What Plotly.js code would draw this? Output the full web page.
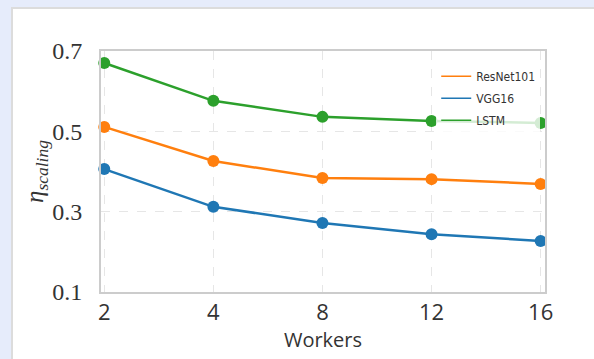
<!DOCTYPE html>
<html>
<head>
<meta charset="utf-8">
<script src="https://cdn.plot.ly/plotly-3.0.1.min.js"></script>
<style>
html,body{margin:0;padding:0;width:594px;height:359px;overflow:hidden;background:#e6ecfb;}
#card{position:absolute;left:11px;top:7px;width:600px;height:400px;background:#fff;border:2px solid #dcdcdc;box-sizing:border-box;}
#chart{position:absolute;left:0;top:0;width:594px;height:359px;}
</style>
</head>
<body>
<div id="card"></div>
<div id="chart"></div>
<script>
const workers = ['2', '4', '8', '12', '16'];
const seriesNames = ['ResNet101', 'VGG16', 'LSTM'];
const resnet101 = [0.511, 0.426, 0.384, 0.381, 0.369];
const vgg16 = [0.406, 0.312, 0.272, 0.244, 0.227];
const lstm = [0.670, 0.576, 0.536, 0.526, 0.521];
const yTicks = [0.1, 0.3, 0.5, 0.7];
const colors = ['#ff7f0e', '#1f77b4', '#2ca02c'];
const values = [resnet101, vgg16, lstm];

const traces = [];
values.forEach((v, i) => {
  traces.push({
    x: workers, y: v, type: 'scatter', mode: 'lines+markers',
    line: {color: colors[i], width: 2.5},
    marker: {color: colors[i], size: 12},
    showlegend: false, name: seriesNames[i], cliponaxis: false
  });
});
values.forEach((v, i) => {
  traces.push({
    x: [null], y: [null], type: 'scatter', mode: 'lines',
    line: {color: colors[i], width: 1.5}, name: seriesNames[i], showlegend: true,
    legendgroup: 'g' + i
  });
});

const layout = {
  width: 594, height: 359,
  paper_bgcolor: 'rgba(0,0,0,0)', plot_bgcolor: 'rgba(0,0,0,0)',
  margin: {l: 101, r: 49, t: 51, b: 67},
  xaxis: {
    type: 'category', range: [-0.03, 4.04],
    showgrid: true, gridcolor: '#e6e6e6', griddash: 'dash', gridwidth: 1,
    showline: true, linecolor: '#cccccc', linewidth: 2, mirror: true,
    zeroline: false, ticks: '', 
    tickfont: {family: 'Open Sans, sans-serif', size: 22, color: '#333'},
    title: {text: 'Workers', font: {family: 'Open Sans, sans-serif', size: 20, color: '#333'}, standoff: 2}
  },
  yaxis: {
    range: [0.1, 0.7], tickvals: yTicks, ticktext: yTicks.map(t => t.toFixed(1)),
    showgrid: true, gridcolor: '#e6e6e6', griddash: 'dash', gridwidth: 1,
    showline: true, linecolor: '#cccccc', linewidth: 2, mirror: true,
    zeroline: false, ticks: 'outside', ticklen: 12, tickcolor: 'rgba(0,0,0,0)',
    tickfont: {family: 'Liberation Serif, serif', size: 24, color: '#333'},
    title: {text: '<i>η<sub>scaling</sub></i>', font: {family: 'Liberation Serif, serif', size: 25, color: '#333'}, standoff: 0}
  },
  legend: {
    x: 0.755, y: 0.955, xanchor: 'left', yanchor: 'top',
    bgcolor: 'rgba(255,255,255,0.8)', borderwidth: 0,
    font: {family: 'DejaVu Sans Condensed, DejaVu Sans, sans-serif', size: 12, color: '#333'},
    tracegroupgap: 3
  },
  showlegend: true
};
Plotly.newPlot('chart', traces, layout, {displayModeBar: false, staticPlot: true});
</script>
</body>
</html>
